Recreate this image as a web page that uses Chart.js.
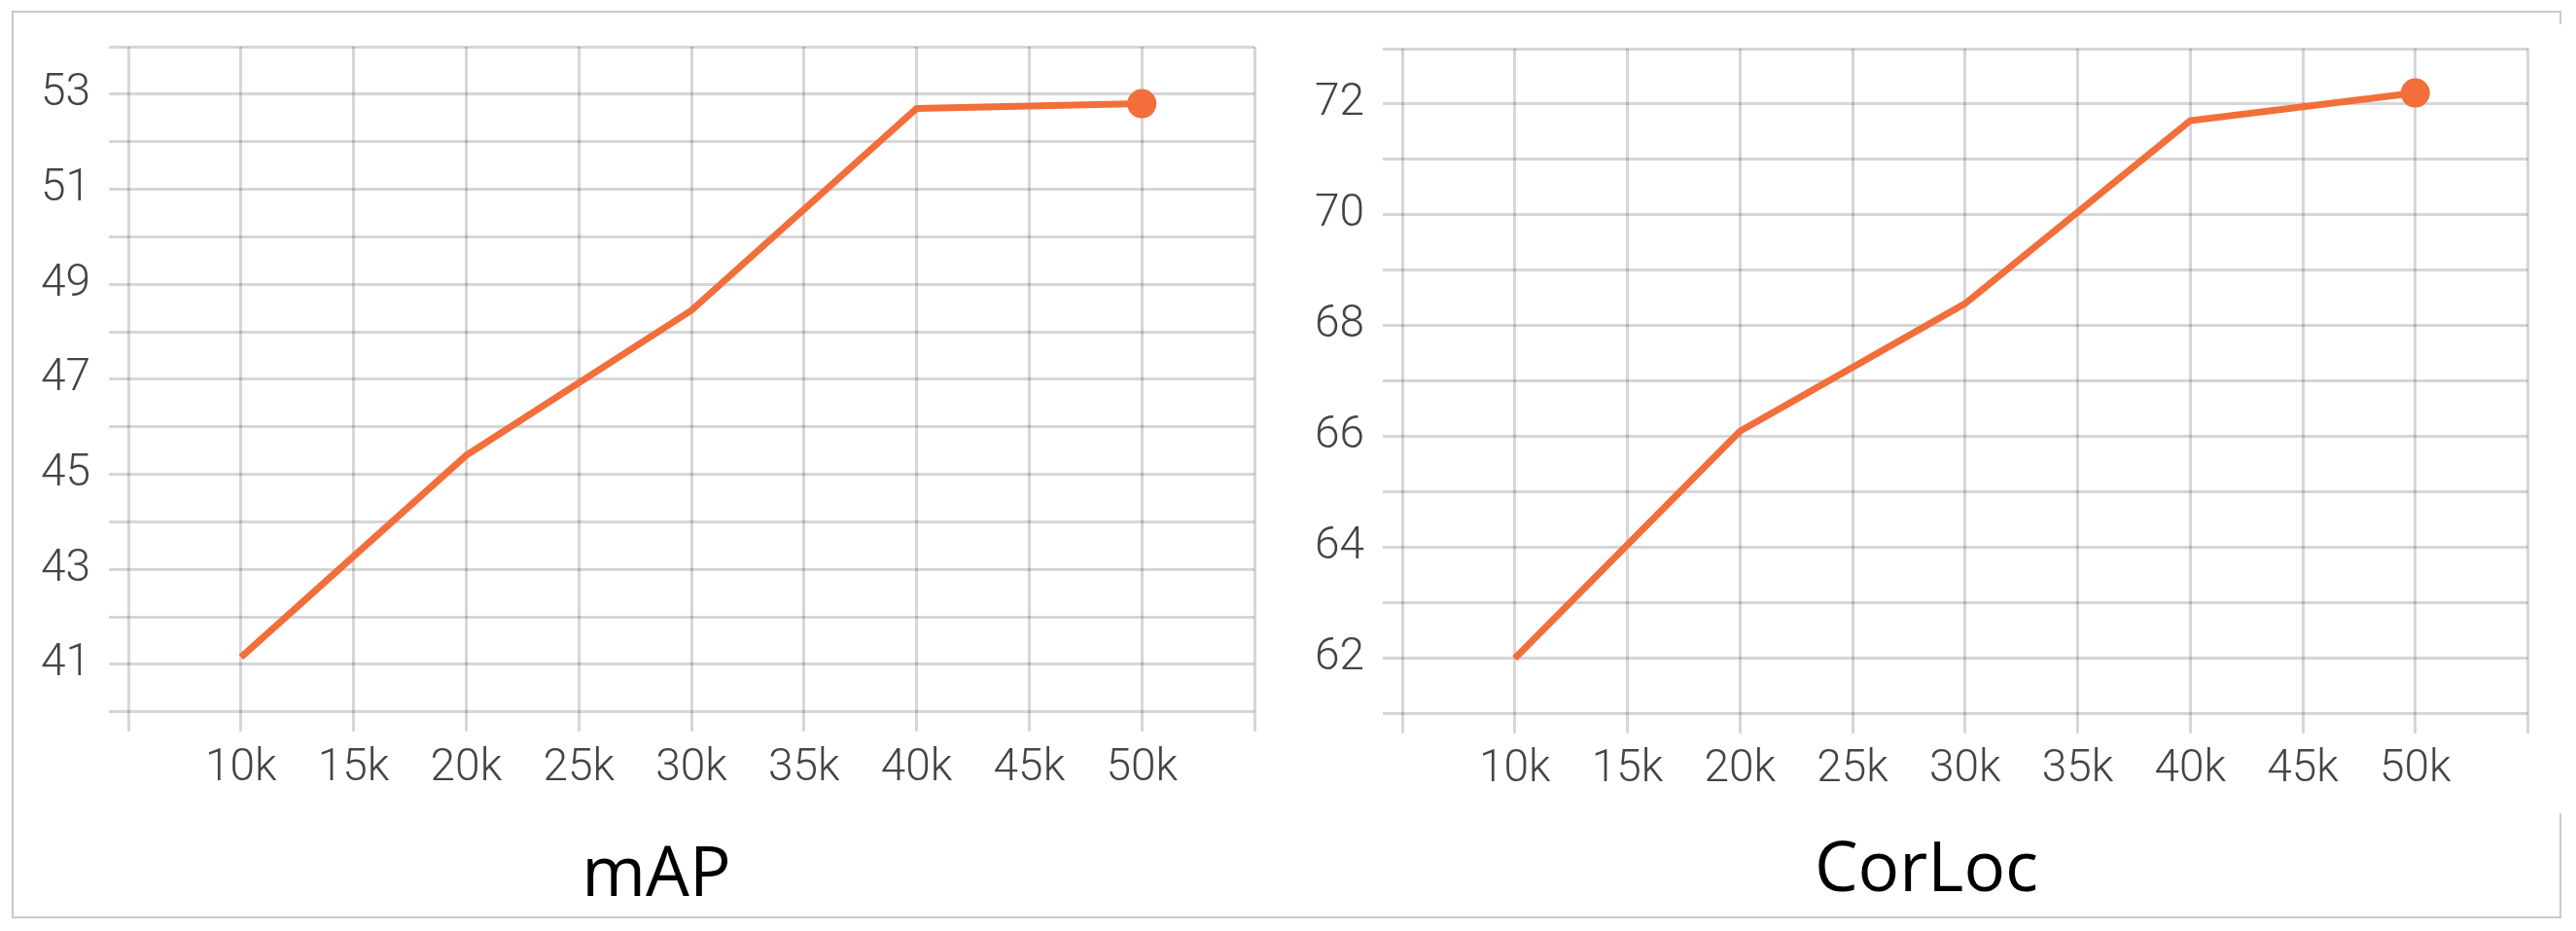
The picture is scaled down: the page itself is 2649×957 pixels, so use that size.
<!DOCTYPE html>
<html>
<head>
<meta charset="utf-8">
<script src="https://cdn.jsdelivr.net/npm/chart.js@4.4.1/dist/chart.umd.min.js"></script>
<style>
  body { margin: 0; background: #fff; width: 2649px; height: 957px; position: relative; overflow: hidden; }
  .frame { position: absolute; left: 12px; top: 11px; width: 2622px; height: 933px; box-sizing: border-box; border: 2px solid #c9c9c9; }
  .cover { position: absolute; left: 2628px; top: 25px; width: 12px; height: 811px; background: #fff; }
  canvas { position: absolute; top: 0; }
  #mapChart { left: 20px; }
  #corlocChart { left: 1330px; }
</style>
</head>
<body>
<div class="frame"></div>
<div class="cover"></div>
<canvas id="mapChart" width="1310" height="957"></canvas>
<canvas id="corlocChart" width="1302" height="957"></canvas>
<script>
// iterations (x axis)
const iterations = [10000, 20000, 30000, 40000, 50000];
const xTickValues = [10000, 15000, 20000, 25000, 30000, 35000, 40000, 45000, 50000];
const xTickLabels = ['10k', '15k', '20k', '25k', '30k', '35k', '40k', '45k', '50k'];

// mAP
const mapValues = [41.15, 45.4, 48.45, 52.7, 52.8];
const mapYLabels = [41, 43, 45, 47, 49, 51, 53];

// CorLoc
const corlocValues = [62.0, 66.1, 68.4, 71.7, 72.2];
const corlocYLabels = [62, 64, 66, 68, 70, 72];

const lineColor = '#f26e3b';
const gridColor = 'rgba(0,0,0,0.16)';
const tickFont = { family: 'Roboto', weight: 300, size: 46, lineHeight: 1.2 };

function makeChart(id, title, values, yMin, yMax, yLabels, box) {
    const ctx = document.getElementById(id);
    return new Chart(ctx, {
        type: 'line',
        data: {
            datasets: [{
                data: iterations.map((x, i) => ({ x: x, y: values[i] })),
                yAxisID: 'y',
                borderColor: lineColor,
                backgroundColor: lineColor,
                borderWidth: 7,
                tension: 0,
                fill: false,
                pointRadius: values.map((v, i) => i === values.length - 1 ? 15 : 0),
                pointHoverRadius: values.map((v, i) => i === values.length - 1 ? 15 : 0),
                pointBorderWidth: 0,
                pointBackgroundColor: lineColor
            }]
        },
        options: {
            responsive: false,
            animation: false,
            devicePixelRatio: 1,
            layout: { padding: { top: box.top, right: 0, left: 0, bottom: 0 } },
            plugins: {
                legend: { display: false },
                tooltip: { enabled: false },
                title: {
                    display: true,
                    text: title,
                    position: 'bottom',
                    color: '#000',
                    font: { family: 'Open Sans', size: 71, weight: 'normal', lineHeight: 1.2 },
                    padding: { top: 0, bottom: box.titleBottom }
                }
            },
            scales: {
                x: {
                    type: 'linear',
                    min: 5000,
                    max: 55000,
                    afterFit: s => { s.height = box.xHeight; },
                    grid: { color: gridColor, lineWidth: 3, tickLength: 20 },
                    border: { display: false },
                    ticks: {
                        stepSize: 5000,
                        autoSkip: false,
                        maxRotation: 0,
                        padding: box.xPad,
                        color: '#444',
                        font: tickFont,
                        callback: v => {
                            const i = xTickValues.indexOf(v);
                            return i < 0 ? '' : xTickLabels[i];
                        }
                    }
                },
                y: {
                    position: 'left',
                    min: yMin,
                    max: yMax,
                    afterFit: s => { s.width = 112; },
                    grid: { color: gridColor, lineWidth: 3, tickLength: 20 },
                    border: { display: false },
                    ticks: {
                        stepSize: 1,
                        maxTicksLimit: 100,
                        autoSkip: false,
                        padding: 19,
                        color: '#444',
                        font: tickFont,
                        callback: v => yLabels.includes(v) ? String(v) : ''
                    }
                },
                // empty axis on the right, only to keep blank space there
                spacer: {
                    type: 'linear',
                    position: 'right',
                    afterFit: s => { s.width = box.rightGap; },
                    grid: { display: false },
                    border: { display: false },
                    ticks: { display: false }
                }
            }
        }
    });
}

makeChart('mapChart', 'mAP', mapValues, 40, 54, mapYLabels,
    { top: 48, rightGap: 40, xHeight: 126, xPad: 11, titleBottom: 14 });
makeChart('corlocChart', 'CorLoc', corlocValues, 61, 73, corlocYLabels,
    { top: 50, rightGap: 32.5, xHeight: 119, xPad: 10, titleBottom: 19 });
</script>
</body>
</html>
